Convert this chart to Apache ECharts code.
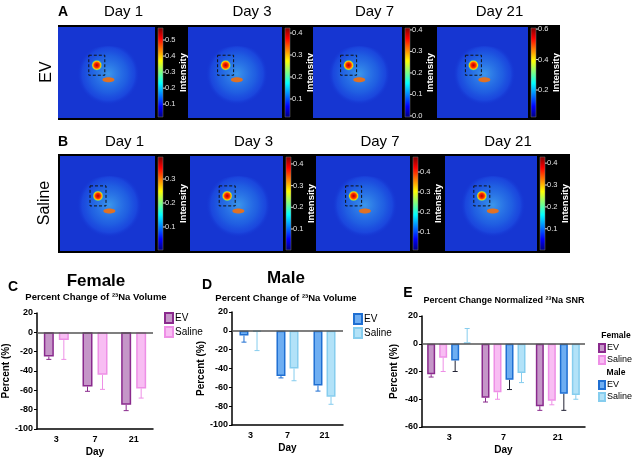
<!DOCTYPE html>
<html lang="en">
<head>
    <meta charset="UTF-8">
    <title>23Na MRI</title>
    <script src="https://cdn.jsdelivr.net/npm/echarts@6/dist/echarts.min.js"></script>
    <style>
        html, body { margin: 0; padding: 0; background: #fff; }
    </style>
</head>
<body>
<div id="fig" style="width: 632px;height:462px;"></div>
</body>

<script type="text/javascript">
    // ---- data ----
    var days = ['3', '7', '21'];
    var imgDays = ['Day 1', 'Day 3', 'Day 7', 'Day 21'];

    // C: female, percent change of 23Na volume (mean, end of error bar)
    var femaleEV = [-25, -56, -75];
    var femaleEVErr = [-28, -61, -81];
    var femaleSaline = [-8, -44, -58];
    var femaleSalineErr = [-28, -59, -68];

    // D: male
    var maleEV = [-5, -48, -58];
    var maleEVErr = [-12, -50, -64];
    var maleSaline = [-1, -40, -70];
    var maleSalineErr = [-21, -53, -78];

    // E: normalized SNR
    var snrFemEV = [-22, -39, -45];
    var snrFemEVErr = [-24, -42, -48];
    var snrFemSaline = [-10, -35, -41];
    var snrFemSalineErr = [-20, -40, -44];
    var snrMaleEV = [-12, -26, -36];
    var snrMaleEVErr = [-20, -33, -48];
    var snrMaleSaline = [1, -21, -37];
    var snrMaleSalineErr = [11, -28, -40];

    // colour bar ranges and ticks of the intensity maps
    var cbRangeEV = [[0.02, 0.575], [0.018, 0.423], [-0.005, 0.409], [0.023, 0.607]];
    var cbTicksEV = [[0.1, 0.2, 0.3, 0.4, 0.5], [0.1, 0.2, 0.3, 0.4], [0.0, 0.1, 0.2, 0.3, 0.4], [0.2, 0.4, 0.6]];
    var cbRangeSaline = [[0.004, 0.392], [0.003, 0.432], [0.01, 0.475], [0.003, 0.428]];
    var cbTicksSaline = [[0.1, 0.2, 0.3], [0.1, 0.2, 0.3, 0.4], [0.1, 0.2, 0.3, 0.4], [0.1, 0.2, 0.3, 0.4]];

    var FONT = '"Liberation Sans", Arial, sans-serif';
    var col = {
        fEV: '#c596c8', fEVb: '#8a2a8d',
        fSal: '#f8bdf3', fSalb: '#ee8fe6',
        mEV: '#6eaef2', mEVb: '#1f6fd2',
        mSal: '#b2e2f8', mSalb: '#86cdee'
    };

    var chart = echarts.init(document.getElementById('fig'));

    // ---- image rows (drawn as graphics) ----
    var graphic = [];
    function txt(x, y, s, font, fill, rot, align) {
        graphic.push({
            type: 'text', x: x, y: y, rotation: rot || 0,
            style: { text: s, font: font, fill: fill || '#000', align: align || 'center', verticalAlign: 'middle' }
        });
    }
    var jet = [
        { offset: 0, color: '#7f0000' }, { offset: 0.12, color: '#ff0000' },
        { offset: 0.37, color: '#ffff00' }, { offset: 0.62, color: '#00ffff' },
        { offset: 0.88, color: '#0000ff' }, { offset: 1, color: '#00007f' }
    ];

    function imageRow(top, bottom, bandRight, imgs, labelY, ranges, ticks) {
        graphic.push({ type: 'rect', shape: { x: 58, y: top - 2, width: bandRight - 58, height: bottom - top + 4 }, style: { fill: '#000' } });
        imgs.forEach(function (im, i) {
            var w = im[1] - im[0], h = bottom - top;
            graphic.push({ type: 'rect', shape: { x: im[0], y: top, width: w, height: h }, style: { fill: '#1636d2' } });
            // brain slice
            graphic.push({
                type: 'ellipse', shape: { cx: im[0] + w * 0.52, cy: top + h * 0.55, rx: w * 0.42, ry: h * 0.34 },
                style: { fill: new echarts.graphic.RadialGradient(0.5, 0.45, 0.5, [
                    { offset: 0, color: 'rgba(90,230,255,0.55)' }, { offset: 0.6, color: 'rgba(50,170,255,0.35)' },
                    { offset: 0.85, color: 'rgba(40,120,255,0.25)' }, { offset: 1, color: 'rgba(20,60,220,0)' }]) }
            });
            var hx = im[0] + w * 0.4, hy = top + h * 0.42;
            graphic.push({
                type: 'ellipse', shape: { cx: hx, cy: hy, rx: 5.5, ry: 8 },
                style: { fill: new echarts.graphic.RadialGradient(0.5, 0.5, 0.5, [
                    { offset: 0, color: '#b00000' }, { offset: 0.45, color: '#ff2a00' },
                    { offset: 0.75, color: '#ffd000' }, { offset: 1, color: 'rgba(0,255,200,0)' }]) }
            });
            graphic.push({ type: 'ellipse', shape: { cx: im[0] + w * 0.52, cy: top + h * 0.58, rx: 6, ry: 2.5 },
                style: { fill: 'rgba(255,110,0,0.85)' } });
            graphic.push({ type: 'rect', shape: { x: hx - 8, y: hy - 10, width: 16, height: 20 },
                style: { fill: 'none', stroke: '#111', lineWidth: 1, lineDash: [3, 2] } });

            // colour bar
            var sx = im[1] + 3, sy0 = top + 1, sy1 = bottom - 1;
            graphic.push({ type: 'rect', shape: { x: sx, y: sy0, width: 5, height: sy1 - sy0 },
                style: { fill: new echarts.graphic.LinearGradient(0, 0, 0, 1, jet), stroke: '#777', lineWidth: 0.5 } });
            var r = ranges[i];
            ticks[i].forEach(function (t) {
                var y = sy1 - (t - r[0]) / (r[1] - r[0]) * (sy1 - sy0);
                graphic.push({ type: 'line', shape: { x1: sx + 5, y1: y, x2: sx + 7, y2: y }, style: { stroke: '#ddd', lineWidth: 1 } });
                txt(sx + 7, y, t.toFixed(1), '7.5px ' + FONT, '#e6e6e6', 0, 'left');
            });
            txt(sx + 25, (top + bottom) / 2, 'Intensity', 'bold 9.5px ' + FONT, '#fff', Math.PI / 2);
            txt((im[0] + im[1]) / 2 + 17, labelY, imgDays[i], '15px ' + FONT, '#000');
        });
    }
    imageRow(27, 118, 560, [[58, 155], [188, 282], [313, 402], [437, 528]], 12, cbRangeEV, cbTicksEV);
    imageRow(156, 251, 570, [[60, 155], [190, 283], [316, 410], [445, 537]], 142, cbRangeSaline, cbTicksSaline);
    txt(63, 12, 'A', 'bold 14px ' + FONT);
    txt(63, 142, 'B', 'bold 14px ' + FONT);
    txt(47, 72, 'EV', '16px ' + FONT, '#000', Math.PI / 2);
    txt(45, 203, 'Saline', '16px ' + FONT, '#000', Math.PI / 2);

    // chart titles and panel letters
    txt(13, 287, 'C', 'bold 14px ' + FONT);
    txt(207, 285, 'D', 'bold 14px ' + FONT);
    txt(408, 293, 'E', 'bold 14px ' + FONT);
    txt(96, 281, 'Female', 'bold 17px ' + FONT);
    txt(96, 297, 'Percent Change of ²³Na Volume', 'bold 9.5px ' + FONT);
    txt(286, 278, 'Male', 'bold 17px ' + FONT);
    txt(286, 298, 'Percent Change of ²³Na Volume', 'bold 9.5px ' + FONT);
    txt(504, 301, 'Percent Change Normalized ²³Na SNR', 'bold 9px ' + FONT);
    txt(616, 336, 'Female', 'bold 8.5px ' + FONT);
    txt(616, 373, 'Male', 'bold 8.5px ' + FONT);

    // ---- bar charts ----
    var grids = [
        { left: 37, top: 313, width: 116, height: 116 },
        { left: 232, top: 312, width: 111, height: 113 },
        { left: 422, top: 316, width: 163, height: 111 }
    ];
    function xAx(i) {
        return {
            type: 'category', gridIndex: i, data: days, name: 'Day', nameLocation: 'middle', nameGap: 18,
            nameTextStyle: { fontFamily: FONT, fontWeight: 'bold', fontSize: 10, color: '#000' },
            axisLine: { onZero: false, lineStyle: { color: '#000', width: 1.5 } },
            axisTick: { alignWithLabel: true, length: 3, lineStyle: { color: '#000' } },
            axisLabel: { fontFamily: FONT, fontWeight: 'bold', fontSize: 9, color: '#000', margin: 6 }
        };
    }
    function yAx(i, min, max) {
        return {
            type: 'value', gridIndex: i, min: min, max: max, interval: 20,
            name: 'Percent (%)', nameLocation: 'middle', nameGap: 23,
            nameTextStyle: { fontFamily: FONT, fontWeight: 'bold', fontSize: 10, color: '#000' },
            splitLine: { show: false },
            axisLine: { show: true, lineStyle: { color: '#000', width: 1.5 } },
            axisTick: { show: true, length: 3, lineStyle: { color: '#000' } },
            axisLabel: { fontFamily: FONT, fontWeight: 'bold', fontSize: 9, color: '#000', margin: 4 }
        };
    }

    function errRender(offset, color) {
        return function (params, api) {
            var x = api.coord([api.value(0), 0])[0] + offset;
            var y1 = api.coord([api.value(0), api.value(1)])[1];
            var y2 = api.coord([api.value(0), api.value(2)])[1];
            return {
                type: 'group', children: [
                    { type: 'line', shape: { x1: x, y1: y1, x2: x, y2: y2 }, style: { stroke: color, lineWidth: 1 } },
                    { type: 'line', shape: { x1: x - 2.5, y1: y2, x2: x + 2.5, y2: y2 }, style: { stroke: color, lineWidth: 1 } }
                ]
            };
        };
    }

    var series = [];
    function group(gi, list, bw, gapPct) {
        var step = bw * (1 + gapPct / 100), n = list.length;
        list.forEach(function (s, k) {
            series.push({
                name: s.name, type: 'bar', xAxisIndex: gi, yAxisIndex: gi,
                barWidth: bw, barGap: gapPct + '%', data: s.vals,
                itemStyle: { color: s.fill, borderColor: s.stroke, borderWidth: 1.5 },
                markLine: k === 0 ? {
                    silent: true, symbol: 'none', label: { show: false },
                    lineStyle: { color: '#555', width: 1.5, type: 'solid' }, data: [{ yAxis: 0 }]
                } : undefined
            });
            series.push({
                type: 'custom', xAxisIndex: gi, yAxisIndex: gi, silent: true,
                renderItem: errRender((k - (n - 1) / 2) * step, s.errColor || s.stroke),
                data: s.vals.map(function (v, j) { return [j, v, s.err[j]]; })
            });
        });
    }
    group(0, [
        { name: 'C-EV', vals: femaleEV, err: femaleEVErr, fill: col.fEV, stroke: col.fEVb },
        { name: 'C-Saline', vals: femaleSaline, err: femaleSalineErr, fill: col.fSal, stroke: col.fSalb }
    ], 10, 50);
    group(1, [
        { name: 'D-EV', vals: maleEV, err: maleEVErr, fill: col.mEV, stroke: col.mEVb },
        { name: 'D-Saline', vals: maleSaline, err: maleSalineErr, fill: col.mSal, stroke: col.mSalb }
    ], 9, 45);
    group(2, [
        { name: 'E-Female-EV', vals: snrFemEV, err: snrFemEVErr, fill: col.fEV, stroke: col.fEVb },
        { name: 'E-Female-Saline', vals: snrFemSaline, err: snrFemSalineErr, fill: col.fSal, stroke: col.fSalb },
        { name: 'E-Male-EV', vals: snrMaleEV, err: snrMaleEVErr, fill: col.mEV, stroke: col.mEVb, errColor: '#223' },
        { name: 'E-Male-Saline', vals: snrMaleSaline, err: snrMaleSalineErr, fill: col.mSal, stroke: col.mSalb }
    ], 8, 50);

    function leg(names, left, top, fs, iw, ih, lh) {
        return {
            data: names, left: left, top: top, orient: 'vertical', itemWidth: iw, itemHeight: ih, itemGap: 2,
            selectedMode: false, icon: 'rect', padding: 0,
            formatter: function (n) { return n.split('-').pop(); },
            textStyle: { fontFamily: FONT, fontSize: fs, lineHeight: lh, color: '#000', padding: [0, 0, 0, -3] }
        };
    }

    chart.setOption({
        animation: false,
        backgroundColor: '#fff',
        graphic: graphic,
        legend: [
            leg(['C-EV', 'C-Saline'], 164, 312, 10, 8, 10, 10),
            leg(['D-EV', 'D-Saline'], 353, 313, 10, 8, 10, 10),
            leg(['E-Female-EV', 'E-Female-Saline'], 598, 343, 9, 6, 8, 9),
            leg(['E-Male-EV', 'E-Male-Saline'], 598, 380, 9, 6, 8, 9)
        ],
        grid: grids,
        xAxis: [xAx(0), xAx(1), xAx(2)],
        yAxis: [yAx(0, -100, 20), yAx(1, -100, 20), yAx(2, -60, 20)],
        series: series
    });
</script>
</html>
